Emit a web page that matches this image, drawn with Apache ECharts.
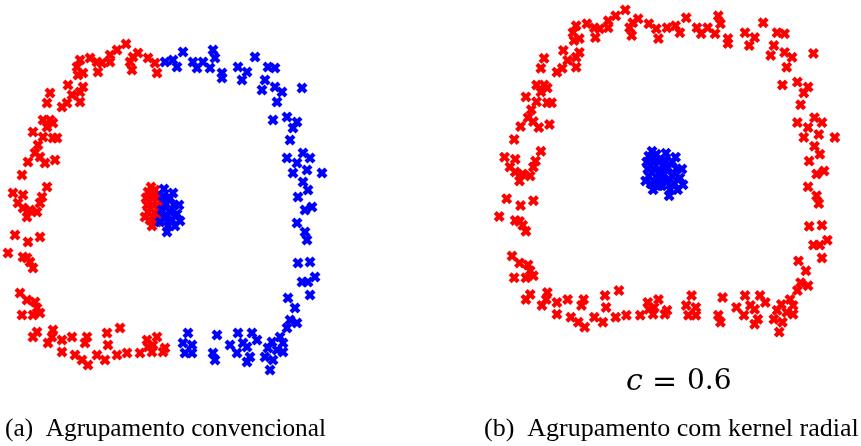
<!DOCTYPE html>
<html>
<head>
<meta charset="utf-8">
<script src="https://cdn.jsdelivr.net/npm/echarts@6/dist/echarts.min.js"></script>
<style>
html,body{margin:0;padding:0;background:#fff;}
#c{width:861px;height:446px;}
</style>
</head>
<body>
<div id="c"></div>
<script>
// Outer ring, part assigned to cluster 1 by the conventional method
const ringPartA = [
[-39,163],[-48,157],[-55,152],[-32,150],[-35,145],[-27,154],[-33,137],[-17,149],[-10,144],[-8,134],
[-85,147],[-75,149],[-68,145],[-63,144],[-67,135],[-55,145],[-88,140],[-82,134],[-87,132],
[-97,122],[-82,120],[-85,115],[-93,112],[-98,104],[-103,100],[-85,105],[-115,114],[-118,104],
[-122,87],[-115,87],[-112,84],[-118,80],[-132,75],[-112,69],[-108,69],[-122,70],[-127,62],[-130,54],
[-125,50],[-137,45],[-120,44],[-110,47],[-143,32],
[-152,14],[-142,12],[-118,20],[-123,10],[-147,4],[-125,4],[-135,-3],[-128,-5],[-142,-1],[-138,-10],
[-150,-28],[-137,-35],[-125,-30],[-157,-46],[-142,-50],[-135,-55],[-132,-61],[-138,-51],
[-145,-86],[-138,-93],[-130,-95],[-128,-101],[-143,-108],[-132,-108],[-125,-106],
[-128,-125],[-132,-130],[-112,-123],[-113,-130],[-117,-136],[-103,-133],[-93,-130],[-78,-130],[-80,-136],
[-58,-126],[-45,-121],[-57,-138],[-103,-145],[-90,-148],[-83,-153],[-77,-158],[-68,-148],[-60,-153],
[-48,-148],[-38,-146],[-25,-146],[-18,-133],[-12,-138],[-8,-130],[-13,-145],[-2,-145],[-17,-140],[0,-141]
];
// Outer ring, part assigned to cluster 2 by the conventional method
const ringPartB = [
[0,145],[8,147],[12,140],[18,155],[28,145],[32,139],[38,145],[48,157],[50,149],[45,139],[57,134],[57,129],
[73,140],[82,135],[77,127],[90,150],[103,140],[110,139],[100,127],[97,117],[110,120],[117,115],[112,105],[137,119],
[108,87],[122,90],[132,85],[128,79],[125,67],[138,54],[122,49],[132,44],[145,49],[128,34],[142,37],[157,34],
[138,25],[143,17],[133,10],[147,0],[140,-3],[132,-16],[140,-25],[142,-33],[133,-56],[145,-55],[150,-70],
[137,-75],[143,-75],[145,-88],[123,-91],[130,-101],[125,-113],[132,-116],[122,-121],[115,-130],[107,-135],
[118,-136],[112,-143],[118,-145],[103,-141],[100,-150],[108,-153],[105,-163],
[87,-126],[92,-133],[82,-140],[85,-150],[82,-155],[73,-126],[65,-138],[72,-146],[78,-136],
[52,-128],[48,-146],[50,-153],[23,-126],[18,-136],[27,-138],[20,-146],[27,-146]
];
// Inner blob, left half (cluster 1 in conventional) and right half (cluster 2)
const corePartA = [
[-17,15],[-10,17],[-13,9],[-7,11],[-18,2],[-12,2],[-17,-5],[-10,-6],[-15,-13],[-8,-15],[-5,-1],[-19,9],[-7,-8],[-13,-19],
[-20,-10],[-14,20],[-4,5]
];
const corePartB = [
[-2,11],[5,9],[1,3],[9,2],[-3,-3],[5,-5],[12,-7],[0,-11],[7,-13],[3,-19],[10,-19],[2,-25],[-5,-15],
[14,2],[8,14],[15,-14],[-1,18]
];
const captionA = '(a)  Agrupamento convencional';
const captionB = '(b)  Agrupamento com kernel radial';
const paramLabel = ['c', '=', '0.6'];

const RED = '#ff0000', BLUE = '#0000ff';
const XSYM = 'path://M0,3.2 L3.2,0 L6,2.8 L8.8,0 L12,3.2 L9.2,6 L12,8.8 L8.8,12 L6,9.2 L3.2,12 L0,8.8 L2.8,6 Z';

const chart = echarts.init(document.getElementById('c'), null, {renderer: 'canvas'});

function hiddenAxis(idx, min, max) {
  return {gridIndex: idx, type: 'value', min: min, max: max, show: false, splitLine: {show: false}};
}
function sc(name, idx, data, color) {
  return {
    name: name, type: 'scatter', xAxisIndex: idx, yAxisIndex: idx,
    data: data, symbol: XSYM, symbolSize: 11,
    itemStyle: {color: color, opacity: 1}, silent: true
  };
}

chart.setOption({
  animation: false,
  backgroundColor: '#fff',
  grid: [
    {left: 5, top: 37, width: 320, height: 340},
    {left: 496, top: 3, width: 342, height: 336}
  ],
  xAxis: [hiddenAxis(0, -160, 160), hiddenAxis(1, -160, 160)],
  yAxis: [hiddenAxis(0, -170, 170), hiddenAxis(1, -170, 170)],
  series: [
    sc('a1', 0, ringPartA.concat(corePartA), RED),
    sc('a2', 0, ringPartB.concat(corePartB), BLUE),
    sc('b1', 1, ringPartA.concat(ringPartB), RED),
    sc('b2', 1, corePartA.concat(corePartB), BLUE)
  ],
  graphic: [
    {type: 'text', left: 5, top: 417, style: {text: captionA, font: '25.3px "Liberation Serif", serif', fill: '#000'}},
    {type: 'text', left: 484, top: 416, style: {text: captionB, font: '26px "Liberation Serif", serif', fill: '#000'}},
    {type: 'text', left: 626, top: 367, style: {text: paramLabel[0], font: 'italic 30px "DejaVu Serif", serif', fill: '#000'}},
    {type: 'text', left: 652, top: 368, style: {text: paramLabel[1], font: '30px "DejaVu Serif", serif', fill: '#000'}},
    {type: 'text', left: 687, top: 368, style: {text: paramLabel[2], font: '28px "DejaVu Serif", serif', fill: '#000'}}
  ]
});
</script>
</body>
</html>
